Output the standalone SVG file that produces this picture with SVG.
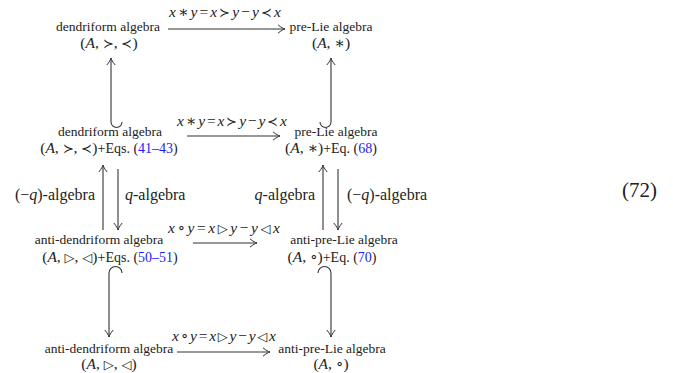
<svg xmlns="http://www.w3.org/2000/svg" width="673" height="373" viewBox="0 0 673 373">
<style>
text{font-family:"Liberation Serif","DejaVu Serif",serif;fill:#222}
.n{font-size:13.5px;text-anchor:middle}
.m{font-size:15.5px;text-anchor:middle}
.l{font-size:16px}
.s{font-family:"DejaVu Serif",serif;font-size:13px}
.c{fill:#1a1aff}
.a{fill:none;stroke:#333;stroke-width:1.1;marker-end:url(#ah)}
</style>
<defs>
<marker id="ah" viewBox="-10 -6 12 12" markerWidth="12" markerHeight="12" refX="0" refY="0" orient="auto" markerUnits="userSpaceOnUse">
<path d="M-7,-4.2 C-4,-1.6 -1.5,-0.4 0,0 C-1.5,0.4 -4,1.6 -7,4.2" fill="none" stroke="#333" stroke-width="1"/>
</marker>
</defs>
<g id="connectors">
<path class="a" d="M168,29 H285"/>
<path class="a" d="M187,136 H280"/>
<path class="a" d="M193,243 H257"/>
<path class="a" d="M177,352 H270"/>
<path class="a" d="M122,122 A5.5,5.5 0 0 1 111,122 V58"/>
<path class="a" d="M320,122 A5.5,5.5 0 0 0 331,122 V58"/>
<path class="a" d="M103,230 V165"/>
<path class="a" d="M118,169 V230"/>
<path class="a" d="M323,230 V165"/>
<path class="a" d="M338,169 V230"/>
<path class="a" d="M122,273 A6.5,6.5 0 0 0 109,273 V337"/>
<path class="a" d="M318,273 A6.5,6.5 0 0 1 331,273 V337"/>
<text class="m" x="225" y="17" textLength="112" lengthAdjust="spacing"><tspan font-style="italic">x</tspan>∗<tspan font-style="italic">y</tspan>=<tspan font-style="italic">x</tspan><tspan class="s">≻</tspan><tspan font-style="italic">y</tspan>−<tspan font-style="italic">y</tspan><tspan class="s">≺</tspan><tspan font-style="italic">x</tspan></text>
<text class="m" x="232" y="126" textLength="110" lengthAdjust="spacing"><tspan font-style="italic">x</tspan>∗<tspan font-style="italic">y</tspan>=<tspan font-style="italic">x</tspan><tspan class="s">≻</tspan><tspan font-style="italic">y</tspan>−<tspan font-style="italic">y</tspan><tspan class="s">≺</tspan><tspan font-style="italic">x</tspan></text>
<text class="m" x="224" y="233" textLength="112" lengthAdjust="spacing"><tspan font-style="italic">x</tspan>∘<tspan font-style="italic">y</tspan>=<tspan font-style="italic">x</tspan><tspan class="s">▷</tspan><tspan font-style="italic">y</tspan>−<tspan font-style="italic">y</tspan><tspan class="s">◁</tspan><tspan font-style="italic">x</tspan></text>
<text class="m" x="224" y="341" textLength="104" lengthAdjust="spacing"><tspan font-style="italic">x</tspan>∘<tspan font-style="italic">y</tspan>=<tspan font-style="italic">x</tspan><tspan class="s">▷</tspan><tspan font-style="italic">y</tspan>−<tspan font-style="italic">y</tspan><tspan class="s">◁</tspan><tspan font-style="italic">x</tspan></text>
<text class="l" x="95" y="200" text-anchor="end">(−<tspan font-style="italic">q</tspan>)-algebra</text>
<text class="l" x="125" y="200"><tspan font-style="italic">q</tspan>-algebra</text>
<text class="l" x="315" y="200" text-anchor="end"><tspan font-style="italic">q</tspan>-algebra</text>
<text class="l" x="347" y="200">(−<tspan font-style="italic">q</tspan>)-algebra</text>
</g>
<g id="dend">
<text class="n" x="108" y="31">dendriform algebra</text>
<text class="m" x="109" y="48">(<tspan font-style="italic">A</tspan>, <tspan class="s">≻</tspan>, <tspan class="s">≺</tspan>)</text>
</g>
<g id="prelie">
<text class="n" x="331" y="31">pre-Lie algebra</text>
<text class="m" x="331" y="48">(<tspan font-style="italic">A</tspan>, ∗)</text>
</g>
<g id="dend-eq">
<text class="n" x="110" y="136">dendriform algebra</text>
<text class="m" x="109" y="153">(<tspan font-style="italic">A</tspan>, <tspan class="s">≻</tspan>, <tspan class="s">≺</tspan>)<tspan font-size="14">+Eqs. (<tspan class="c">41–43</tspan>)</tspan></text>
</g>
<g id="prelie-eq">
<text class="n" x="336" y="136">pre-Lie algebra</text>
<text class="m" x="331" y="153">(<tspan font-style="italic">A</tspan>, ∗)<tspan font-size="14">+Eq. (<tspan class="c">68</tspan>)</tspan></text>
</g>
<g id="antidend-eq">
<text class="n" x="99" y="244">anti-dendriform algebra</text>
<text class="m" x="110" y="262">(<tspan font-style="italic">A</tspan>, <tspan class="s">▷</tspan>, <tspan class="s">◁</tspan>)<tspan font-size="14">+Eqs. (<tspan class="c">50–51</tspan>)</tspan></text>
</g>
<g id="antiprelie-eq">
<text class="n" x="344" y="244">anti-pre-Lie algebra</text>
<text class="m" x="332" y="262">(<tspan font-style="italic">A</tspan>, ∘)<tspan font-size="14">+Eq. (<tspan class="c">70</tspan>)</tspan></text>
</g>
<g id="antidend">
<text class="n" x="109" y="353">anti-dendriform algebra</text>
<text class="m" x="109" y="369">(<tspan font-style="italic">A</tspan>, <tspan class="s">▷</tspan>, <tspan class="s">◁</tspan>)</text>
</g>
<g id="antiprelie">
<text class="n" x="332" y="353">anti-pre-Lie algebra</text>
<text class="m" x="331" y="369">(<tspan font-style="italic">A</tspan>, ∘)</text>
</g>
<g id="eqnum">
<text x="622" y="197" font-size="21">(72)</text>
</g>
</svg>
